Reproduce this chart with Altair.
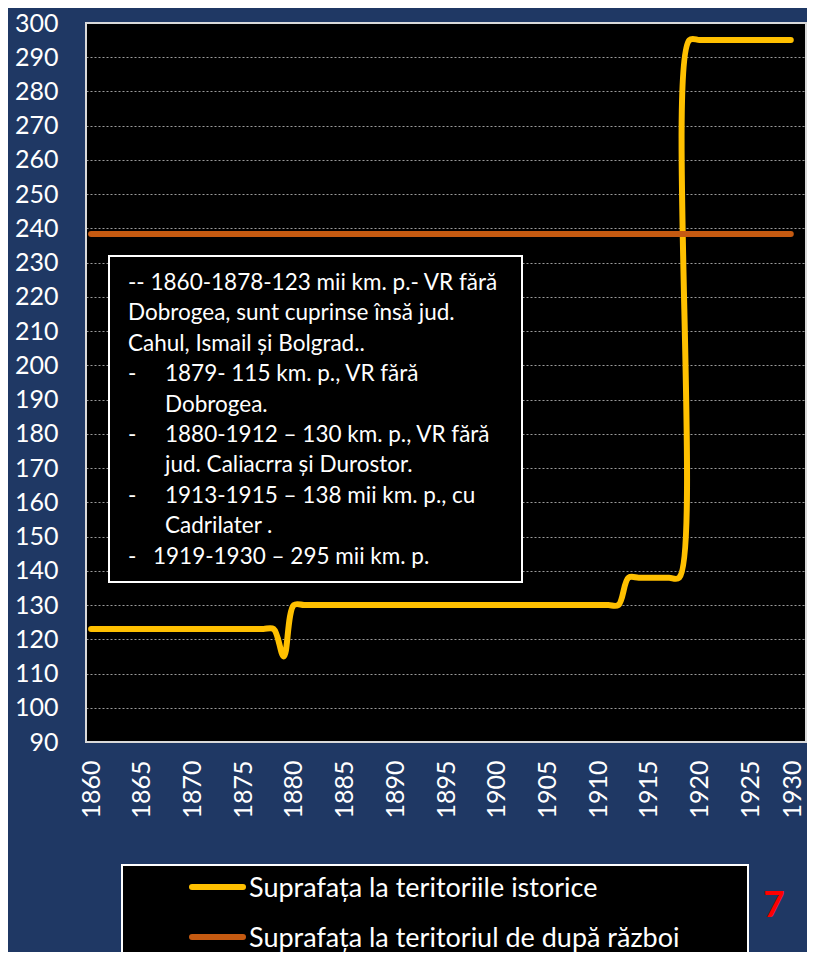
import altair as alt
import pandas as pd

# ---------------- data ----------------
years = list(range(1860, 1930))

hist_values = [
    123, 123, 123, 123, 123, 123, 123, 123, 123, 123,   # 1860-1869
    123, 123, 123, 123, 123, 123, 123, 123, 123, 115,   # 1870-1879
    130, 130, 130, 130, 130, 130, 130, 130, 130, 130,   # 1880-1889
    130, 130, 130, 130, 130, 130, 130, 130, 130, 130,   # 1890-1899
    130, 130, 130, 130, 130, 130, 130, 130, 130, 130,   # 1900-1909
    130, 130, 130, 138, 138, 138, 138, 138, 138, 295,   # 1910-1919
    295, 295, 295, 295, 295, 295, 295, 295, 295, 295,   # 1920-1929
]

postwar_values = [
    238.4, 238.4, 238.4, 238.4, 238.4, 238.4, 238.4, 238.4, 238.4, 238.4,
    238.4, 238.4, 238.4, 238.4, 238.4, 238.4, 238.4, 238.4, 238.4, 238.4,
    238.4, 238.4, 238.4, 238.4, 238.4, 238.4, 238.4, 238.4, 238.4, 238.4,
    238.4, 238.4, 238.4, 238.4, 238.4, 238.4, 238.4, 238.4, 238.4, 238.4,
    238.4, 238.4, 238.4, 238.4, 238.4, 238.4, 238.4, 238.4, 238.4, 238.4,
    238.4, 238.4, 238.4, 238.4, 238.4, 238.4, 238.4, 238.4, 238.4, 238.4,
    238.4, 238.4, 238.4, 238.4, 238.4, 238.4, 238.4, 238.4, 238.4, 238.4,
]

series_names = ["Suprafața la teritoriile istorice",
                "Suprafața la teritoriul de după război"]
series_colors = ["#FFC000", "#C55A11"]

x_ticks = [1860, 1865, 1870, 1875, 1880, 1885, 1890, 1895, 1900, 1905,
           1910, 1915, 1920, 1925, 1930]
y_ticks = [90, 100, 110, 120, 130, 140, 150, 160, 170, 180, 190, 200,
           210, 220, 230, 240, 250, 260, 270, 280, 290, 300]

note_lines = [
    "-- 1860-1878-123 mii km. p.- VR fără",
    "Dobrogea, sunt cuprinse însă jud.",
    "Cahul, Ismail și Bolgrad..",
    "1879- 115 km. p., VR fără",
    "Dobrogea.",
    "1880-1912 – 130 km. p., VR fără",
    "jud. Caliacrra și Durostor.",
    "1913-1915 – 138 mii km. p., cu",
    "Cadrilater .",
    "1919-1930 – 295 mii km. p.",
]
# 0 = flush, 1 = bullet item, 2 = continuation of bullet, 3 = short bullet
note_kinds = [0, 0, 0, 1, 2, 1, 2, 1, 2, 3]

page_number = "7"

# ---------------- layout ----------------
W, H = 720, 719
BG = "#1F3864"
FONT = "Lato"

df = pd.DataFrame({
    "year": years * 2,
    "value": hist_values + postwar_values,
    "series": [series_names[0]] * len(years) + [series_names[1]] * len(years),
})

color_scale = alt.Scale(domain=series_names, range=series_colors)
x_scale = alt.Scale(domain=[1859.5, 1930.5], nice=False, zero=False)
y_scale = alt.Scale(domain=[90, 300], nice=False, zero=False)

x_axis = alt.Axis(values=x_ticks, format="d", labelAngle=270, grid=False,
                  ticks=False, domain=False, labelPadding=18,
                  labelFontSize=25, labelColor="white", labelFont=FONT,
                  title=None, labelOverlap=False,
                  labelOffset={"condition": {"test": "datum.value == 1930",
                                             "value": -8},
                               "value": 0})
y_axis = alt.Axis(values=y_ticks, grid=True, gridDash=[2, 2],
                  gridColor="#9a9a9a", gridWidth=1, ticks=False,
                  domain=False, labelPadding=28, labelFontSize=25,
                  labelColor="white", labelFont=FONT, title=None,
                  labelOverlap=False)


def series_layer(i):
    return alt.Chart(df).transform_filter(
        alt.datum.series == series_names[i]
    ).mark_line(strokeWidth=6, interpolate="catmull-rom",
                strokeCap="round", strokeJoin="round").encode(
        x=alt.X("year:Q", scale=x_scale, axis=x_axis),
        y=alt.Y("value:Q", scale=y_scale, axis=y_axis),
        color=alt.Color("series:N", scale=color_scale, legend=None),
    )


one = pd.DataFrame({"k": [0]})

frame = alt.Chart(one).mark_rect(fill=None, stroke="#d9d9d9",
                                 strokeWidth=2).encode(
    x=alt.value(0), x2=alt.value(W), y=alt.value(0), y2=alt.value(H))

layers = [frame, series_layer(0), series_layer(1)]

# note box
layers.append(alt.Chart(one).mark_rect(fill="black", stroke="white",
                                       strokeWidth=2).encode(
    x=alt.value(23), x2=alt.value(436), y=alt.value(233), y2=alt.value(559)))

y0, dy = 260, 30.4
for i, (txt, kind) in enumerate(zip(note_lines, note_kinds)):
    yy = y0 + i * dy
    tx = {0: 42, 1: 79, 2: 79, 3: 67}[kind]
    layers.append(alt.Chart(pd.DataFrame({"t": [txt]})).mark_text(
        align="left", baseline="middle", font=FONT, fontSize=22.5,
        color="white").encode(x=alt.value(tx), y=alt.value(yy), text="t:N"))
    if kind in (1, 3):
        layers.append(alt.Chart(pd.DataFrame({"t": ["-"]})).mark_text(
            align="left", baseline="middle", font=FONT, fontSize=22.5,
            color="white").encode(x=alt.value(42), y=alt.value(yy),
                                  text="t:N"))

# legend box
layers.append(alt.Chart(one).mark_rect(fill="black", stroke="white",
                                       strokeWidth=2).encode(
    x=alt.value(36), x2=alt.value(662), y=alt.value(842), y2=alt.value(990)))

for i, name in enumerate(series_names):
    ly = 864 + i * 50
    leg = pd.DataFrame({"series": [name]})
    layers.append(alt.Chart(leg).mark_rule(strokeWidth=6,
                                           strokeCap="round").encode(
        x=alt.value(106), x2=alt.value(157), y=alt.value(ly),
        color=alt.Color("series:N", scale=color_scale, legend=None)))
    layers.append(alt.Chart(leg).mark_text(
        align="left", baseline="middle", font=FONT, fontSize=27,
        color="white").encode(x=alt.value(163), y=alt.value(ly + 2),
                              text="series:N"))

layers.append(alt.Chart(pd.DataFrame({"t": [page_number]})).mark_text(
    align="center", baseline="middle", font=FONT, fontSize=37,
    fontWeight="bold", color="#FF0000").encode(
    x=alt.value(688), y=alt.value(883), text="t:N"))

chart = alt.layer(*layers).properties(
    width=W, height=H,
    background=BG,
    padding={"left": 78, "top": 15, "right": 1, "bottom": 210},
    autosize=alt.AutoSizeParams(type="none"),
).configure_view(fill="black", stroke=None)

chart.save("out.html", embed_options={"renderer": "svg", "actions": False})
